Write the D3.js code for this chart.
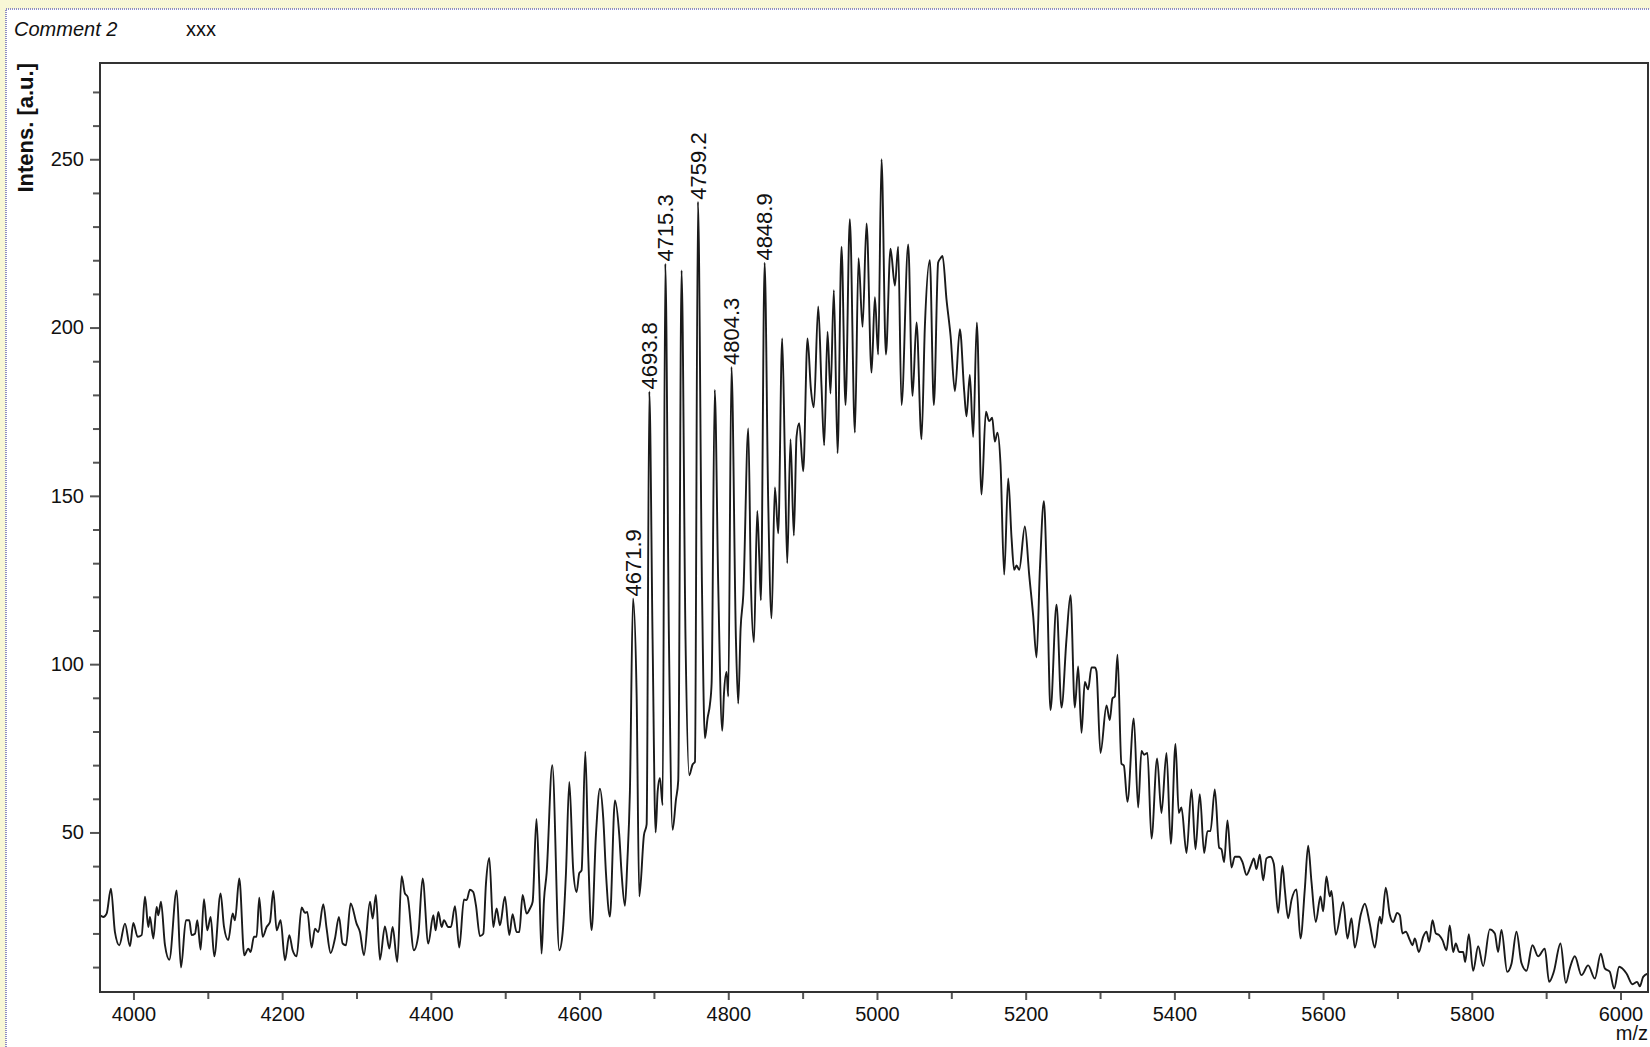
<!DOCTYPE html>
<html>
<head>
<meta charset="utf-8">
<script src="https://cdn.jsdelivr.net/npm/d3@7"></script>
<style>
  html, body { margin: 0; padding: 0; background: #fff; }
  svg { display: block; font-family: Arial, "Liberation Sans", sans-serif; }
  .axis text { font-size: 20px; fill: #111; }
  .axis line { stroke: #555; stroke-width: 2; }
  .axis path { display: none; }
</style>
</head>
<body>
<svg id="chart" width="1650" height="1047"></svg>
<script>
// ---------------------------------------------------------------------------
// Spectrum trace (m/z, intensity in a.u.)
// ---------------------------------------------------------------------------
const mzValues = [
  // baseline
  3955.0, 3959.4, 3963.9, 3969.7, 3975.1, 3981.0, 3988.6, 3995.3, 3999.8, 4005.6,
  4011.0, 4015.5, 4020.0, 4022.2, 4026.7, 4031.2, 4033.4, 4037.0, 4042.4, 4048.2,
  4058.1, 4063.9, 4070.6, 4075.1, 4078.2, 4082.7, 4085.9, 4090.3, 4094.8, 4099.3,
  4103.8, 4108.7, 4117.2, 4121.7, 4127.5, 4133.4, 4136.5, 4142.3, 4149.1, 4154.4,
  4157.6, 4162.1, 4165.6, 4169.2, 4173.7, 4179.1, 4183.6, 4188.1, 4192.6, 4197.9,
  4203.8, 4209.6, 4214.1, 4219.4, 4226.2, 4230.6, 4233.8, 4239.6, 4244.1, 4248.6,
  4255.3, 4259.8, 4265.2, 4271.0, 4276.4, 4281.3, 4285.8, 4292.1, 4300.1, 4304.6,
  4310.0, 4318.1, 4321.7, 4326.1, 4331.5, 4338.2, 4344.1, 4348.6, 4354.8, 4360.7,
  4365.1, 4368.7, 4377.2, 4383.1, 4388.9, 4396.5, 4403.3, 4406.4, 4410.0, 4414.5,
  4417.6, 4423.4, 4427.0, 4432.4, 4438.2, 4444.5, 4448.1, 4452.6, 4457.0, 4460.6,
  4466.0, 4470.5, 4474.1, 4478.6, 4483.9, 4488.4, 4492.9, 4499.6, 4505.5, 4509.9,
  4515.3, 4518.9, 4523.4, 4528.8, 4533.3, 4536.9,
  // rising edge + labelled series
  4542.0, 4545.8, 4548.9, 4552.1, 4555.7, 4563.3, 4572.7, 4577.2, 4581.7, 4586.2,
  4591.5, 4596.0, 4599.6, 4602.7, 4607.7, 4611.7, 4616.2, 4622.0, 4627.4, 4631.9,
  4635.5, 4640.8, 4647.6, 4653.4, 4656.5, 4661.0, 4664.2, 4667.7, 4671.9, 4676.7,
  4680.3, 4686.6, 4690.2, 4693.8, 4698.2, 4702.3, 4705.0, 4708.1, 4711.7, 4715.3,
  4720.2, 4725.1, 4729.6, 4732.7, 4737.2, 4742.5, 4747.5, 4752.0, 4755.2, 4759.2,
  4764.6, 4768.6, 4772.2, 4775.3, 4777.6, 4781.8, 4786.5, 4791.9, 4794.2, 4797.7,
  4800.0, 4804.3, 4810.3, 4813.4, 4816.6, 4820.2, 4826.9, 4830.5, 4834.5, 4839.0,
  4841.7, 4843.9, 4848.9,
  // hump
  4853.7, 4858.2, 4862.7, 4867.2, 4872.5, 4876.1, 4879.3, 4883.7, 4888.2, 4891.8,
  4895.4, 4900.8, 4906.6, 4911.1, 4915.1, 4921.0, 4925.4, 4929.0, 4933.5, 4937.5,
  4942.0, 4947.0, 4952.3, 4957.7, 4963.5, 4970.3, 4975.2, 4980.6, 4986.0, 4992.7,
  4997.2, 5001.6, 5006.1, 5012.0, 5018.2, 5024.1, 5028.5, 5033.0, 5042.0, 5047.8,
  5053.2, 5059.9, 5064.4, 5071.1, 5076.5, 5082.3, 5085.5, 5088.2, 5093.5, 5099.0,
  5104.8, 5111.5, 5117.3, 5120.4, 5124.9, 5129.4, 5134.3, 5140.6, 5146.5, 5150.9,
  5155.0, 5158.5, 5162.1, 5166.2, 5171.1, 5176.5, 5181.0, 5184.5, 5187.7, 5191.3,
  5198.9, 5204.7, 5210.1, 5214.6, 5219.1, 5224.5, 5229.0, 5233.4, 5241.5, 5248.2,
  5254.9, 5260.3, 5266.1, 5270.6, 5275.1,
  // falling tail
  5279.5, 5284.0, 5288.5, 5293.0, 5295.2, 5300.6, 5308.7, 5313.1, 5316.7, 5319.9,
  5323.5, 5328.8, 5332.0, 5336.9, 5345.4, 5351.3, 5355.7, 5359.3, 5363.8, 5369.2,
  5376.8, 5382.6, 5389.4, 5395.2, 5401.5, 5405.9, 5409.5, 5416.3, 5423.0, 5428.4,
  5434.2, 5440.0, 5444.5, 5448.5, 5454.4, 5460.2, 5463.3, 5466.9, 5471.4, 5476.8,
  5481.3, 5487.1, 5491.6, 5497.0, 5503.7, 5506.8, 5510.4, 5514.9, 5519.4, 5523.8,
  5529.2, 5533.7, 5539.5, 5545.4, 5548.5, 5553.0, 5557.5, 5564.2, 5569.6, 5575.4,
  5579.9, 5584.4, 5590.2, 5596.5, 5600.1, 5604.5, 5609.0, 5611.3, 5617.1, 5627.0,
  5632.8, 5638.2, 5642.6, 5650.7, 5656.1, 5662.8, 5669.5, 5676.3, 5678.5, 5684.3,
  5689.7, 5694.2, 5699.6,
  5703.2, 5706.8, 5711.3, 5716.7, 5720.2, 5723.4, 5728.8, 5734.6, 5739.1, 5742.7,
  5747.1, 5751.6, 5756.1, 5760.6, 5766.0, 5770.4, 5774.9, 5778.5, 5783.0, 5788.4,
  5791.1, 5796.0, 5801.8, 5808.6, 5815.3, 5824.2, 5831.0, 5835.4, 5839.9, 5847.6,
  5853.4, 5860.1, 5866.8, 5873.6, 5881.6, 5889.2, 5898.2, 5904.0, 5910.3, 5919.3,
  5926.5, 5931.8, 5938.6, 5947.5, 5956.5, 5965.5, 5973.5, 5978.9, 5985.6, 5991.5,
  5998.2, 6008.1, 6016.1, 6022.4, 6026.0, 6030.5, 6037.2,
];

const intensityValues = [
  25.4, 24.9, 25.9, 33.3, 20.4, 16.5, 22.9, 16.2, 23.1, 19.0,
  19.5, 30.9, 21.9, 24.9, 18.5, 27.9, 25.4, 29.4, 16.5, 12.2,
  32.8, 9.9, 23.9, 23.9, 19.5, 19.9, 23.9, 15.2, 30.2, 20.9,
  24.9, 13.2, 31.9, 22.1, 18.0, 25.9, 23.9, 36.3, 13.5, 15.5,
  14.5, 19.0, 19.0, 30.6, 19.0, 21.9, 23.4, 32.6, 20.9, 23.9,
  12.0, 19.5, 15.0, 13.2, 27.7, 26.1, 26.4, 15.8, 21.4, 20.4,
  28.7, 21.4, 14.2, 18.5, 24.9, 17.0, 16.5, 28.9, 22.9, 20.4,
  13.5, 29.4, 24.4, 31.4, 12.2, 22.1, 15.5, 21.9, 11.5, 37.0,
  31.9, 30.9, 15.0, 19.5, 36.3, 17.0, 25.4, 20.9, 26.4, 21.9,
  23.9, 21.9, 21.9, 28.1, 15.8, 30.1, 29.9, 33.0, 32.3, 28.4,
  19.2, 19.9, 34.8, 42.4, 21.9, 27.4, 22.4, 30.9, 19.5, 25.7,
  20.4, 20.4, 31.4, 25.9, 27.4, 29.4,

  54.0, 34.7, 14.0, 29.8, 37.9, 70.0, 15.0, 20.1, 37.9, 65.0,
  38.7, 32.3, 37.9, 38.7, 74.0, 42.8, 21.0, 49.2, 63.0, 54.1,
  37.9, 25.0, 59.5, 49.2, 37.9, 28.2, 41.1, 62.1, 119.5, 91.2,
  31.0, 49.2, 52.4, 181.0, 107.4, 50.0, 62.1, 66.2, 58.1, 219.0,
  107.4, 50.8, 59.7, 65.4, 217.0, 107.4, 67.0, 70.2, 71.0, 237.4,
  123.5, 78.0, 84.0, 88.0, 94.4, 181.5, 123.5, 80.2, 91.2, 97.7,
  90.4, 188.3, 107.4, 88.3, 110.6, 120.6, 170.0, 123.5, 106.5, 145.5,
  131.6, 119.0, 219.3,

  148.4, 113.6, 152.5, 138.9, 196.8, 162.0, 130.0, 166.8, 138.2, 167.5,
  171.6, 157.3, 196.8, 181.8, 176.3, 206.3, 182.5, 165.0, 198.8, 180.4,
  211.1, 162.7, 224.0, 177.0, 232.2, 168.8, 220.6, 200.2, 230.9, 186.6,
  209.0, 192.0, 250.0, 192.0, 223.4, 212.5, 224.0, 177.0, 224.7, 179.7,
  201.5, 166.8, 200.2, 220.0, 177.0, 219.3, 220.6, 221.3, 208.4, 197.5,
  181.1, 199.5, 181.1, 173.6, 185.9, 167.5, 201.5, 150.4, 175.0, 172.2,
  173.2, 166.1, 168.8, 159.3, 126.6, 155.2, 137.5, 128.0, 129.3, 128.0,
  140.9, 126.6, 114.3, 102.0, 128.0, 148.4, 121.1, 86.4, 117.7, 87.1,
  107.5, 120.5, 87.1, 99.3, 79.6,

  94.7, 92.5, 99.0, 99.0, 97.9, 73.6, 87.7, 83.4, 89.8, 90.4,
  102.8, 70.4, 69.9, 59.1, 83.9, 57.4, 74.2, 73.1, 73.6, 48.2,
  72.0, 55.8, 73.6, 46.6, 76.3, 55.8, 57.4, 43.9, 62.8, 45.0,
  61.4, 43.9, 50.4, 50.4, 62.8, 45.5, 45.0, 41.2, 53.6, 39.6,
  42.8, 42.8, 41.2, 37.4, 40.7, 42.3, 39.1, 43.4, 35.8, 42.3,
  42.8, 40.7, 26.1, 40.1, 33.1, 24.5, 29.9, 33.1, 18.5, 33.1,
  46.1, 35.3, 23.4, 31.0, 26.6, 36.9, 31.0, 32.6, 19.6, 29.3,
  18.5, 24.5, 15.8, 25.6, 28.8, 22.9, 15.8, 25.0, 22.9, 33.6,
  25.6, 23.4, 26.1,
  25.4, 20.0, 20.5, 18.0, 16.5, 18.5, 14.5, 19.0, 20.5, 17.5,
  23.9, 20.0, 19.5, 18.0, 15.0, 22.4, 14.5, 17.0, 14.5, 14.5,
  11.5, 19.8, 8.9, 16.2, 10.3, 21.2, 20.0, 14.5, 21.0, 8.6,
  11.0, 20.5, 11.2, 8.9, 16.5, 13.2, 15.5, 5.6, 8.6, 17.0,
  5.3, 9.6, 13.2, 7.6, 10.5, 6.6, 14.0, 9.6, 8.6, 3.6,
  10.1, 8.1, 4.9, 5.6, 4.3, 7.1, 8.1,
];

// annotated peaks
const peakLabels = [4671.9, 4693.8, 4715.3, 4759.2, 4804.3, 4848.9];

// axis ticks
const xMajorTicks = [4000, 4200, 4400, 4600, 4800, 5000, 5200, 5400, 5600, 5800, 6000];
const xMinorTicks = [4100, 4300, 4500, 4700, 4900, 5100, 5300, 5500, 5700, 5900];
const yMajorTicks = [50, 100, 150, 200, 250];
const yMinorTicks = [10, 20, 30, 40, 60, 70, 80, 90, 110, 120, 130, 140,
                     160, 170, 180, 190, 210, 220, 230, 240, 260, 270];

// ---------------------------------------------------------------------------
const W = 1650, H = 1047;
const plot = { left: 100, top: 63, right: 1648, bottom: 992 };

const svg = d3.select("#chart");

// pale yellow window frame with dotted blue edge
svg.append("rect").attr("width", W).attr("height", H).attr("fill", "#f8f7d6");
svg.append("rect").attr("x", 6).attr("y", 9).attr("width", W - 6).attr("height", H - 9)
  .attr("fill", "#fff");
svg.append("path")
  .attr("d", `M6,${H} V9 H${W}`)
  .attr("fill", "none")
  .attr("stroke", "#6a6ab8")
  .attr("stroke-width", 1.5)
  .attr("stroke-dasharray", "1 1");

const x = d3.scaleLinear().domain([3955, 6037]).range([plot.left, plot.right]);
const y = d3.scaleLinear().domain([2.6, 278.6]).range([plot.bottom, plot.top]);

// header comment
svg.append("text").attr("x", 14).attr("y", 36)
  .style("font-size", "20px").style("font-style", "italic").attr("fill", "#111")
  .text("Comment 2");
svg.append("text").attr("x", 186).attr("y", 36)
  .style("font-size", "20px").attr("fill", "#111")
  .text("xxx");

// axes
svg.append("g").attr("class", "axis")
  .attr("transform", `translate(${plot.left},0)`)
  .call(d3.axisLeft(y).tickValues(yMinorTicks).tickSize(7).tickSizeOuter(0).tickFormat(""));
svg.append("g").attr("class", "axis")
  .attr("transform", `translate(${plot.left},0)`)
  .call(d3.axisLeft(y).tickValues(yMajorTicks).tickSize(10).tickSizeOuter(0).tickPadding(6));

svg.append("g").attr("class", "axis")
  .attr("transform", `translate(0,${plot.bottom})`)
  .call(d3.axisBottom(x).tickValues(xMinorTicks).tickSize(7).tickSizeOuter(0).tickFormat(""));
svg.append("g").attr("class", "axis")
  .attr("transform", `translate(0,${plot.bottom})`)
  .call(d3.axisBottom(x).tickValues(xMajorTicks).tickSize(8).tickSizeOuter(0).tickPadding(7)
    .tickFormat(d3.format("d")));

// axis titles
svg.append("text")
  .attr("transform", `translate(33,${plot.top}) rotate(-90)`)
  .attr("text-anchor", "end")
  .style("font-size", "22px").style("font-weight", "bold").attr("fill", "#111")
  .text("Intens. [a.u.]");
svg.append("text")
  .attr("x", W - 2).attr("y", 1040)
  .attr("text-anchor", "end")
  .style("font-size", "20px").attr("fill", "#111")
  .text("m/z");

// spectrum
svg.append("clipPath").attr("id", "plot-clip")
  .append("rect")
  .attr("x", plot.left).attr("y", plot.top)
  .attr("width", plot.right - plot.left).attr("height", plot.bottom - plot.top);

const n = Math.min(mzValues.length, intensityValues.length);
const points = d3.range(n).map((i) => [mzValues[i], intensityValues[i]]);

const line = d3.line()
  .x((d) => x(d[0]))
  .y((d) => y(d[1]))
  .curve(d3.curveMonotoneX);

svg.append("path")
  .datum(points)
  .attr("clip-path", "url(#plot-clip)")
  .attr("fill", "none")
  .attr("stroke", "#1a1a1a")
  .attr("stroke-width", 1.9)
  .attr("stroke-linejoin", "round")
  .attr("d", line);

// plot frame
svg.append("rect")
  .attr("x", plot.left).attr("y", plot.top)
  .attr("width", plot.right - plot.left).attr("height", plot.bottom - plot.top)
  .attr("fill", "none")
  .attr("stroke", "#333")
  .attr("stroke-width", 2);

// peak labels, vertical, starting at the peak top
const nearest = (m) => points[d3.leastIndex(points, (p) => Math.abs(p[0] - m))];
svg.append("g").selectAll("text")
  .data(peakLabels)
  .join("text")
  .attr("transform", (m) => `translate(${x(m)},${y(nearest(m)[1]) - 2}) rotate(-90)`)
  .attr("dy", "0.35em")
  .attr("text-anchor", "start")
  .style("font-size", "22px")
  .attr("fill", "#111")
  .text((m) => m.toFixed(1));
</script>
</body>
</html>
